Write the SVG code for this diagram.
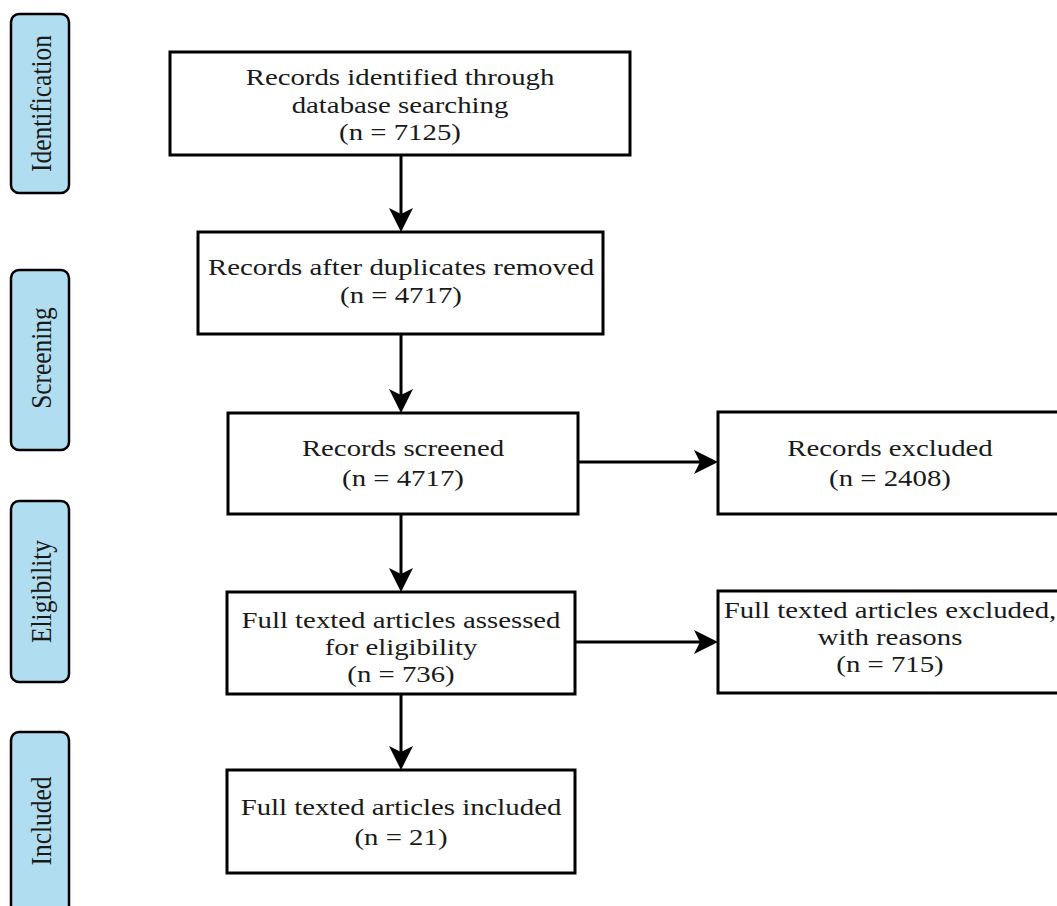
<svg xmlns="http://www.w3.org/2000/svg" width="1057" height="906" viewBox="0 0 1057 906">
<defs>
<style>
.box{fill:#ffffff;stroke:#000000;stroke-width:3}
.lab{fill:#b1ddf0;stroke:#000000;stroke-width:2.5}
.t{font-family:"Liberation Serif","Times New Roman",serif;font-size:24px;fill:#1a1a1a;text-anchor:middle}
.lt{font-family:"Liberation Serif","Times New Roman",serif;font-size:25.4px;fill:#1a1a1a;text-anchor:middle}
.c{fill:none;stroke:#000000;stroke-width:3}
</style>
<marker id="ah" viewBox="0 0 24 24" refX="14" refY="12" markerWidth="24" markerHeight="24" markerUnits="userSpaceOnUse" orient="auto">
<path d="M0,0 L24,12 L0,24 L6,12 Z" fill="#000000"/>
</marker>
</defs>
<rect width="1057" height="906" fill="#ffffff"/>

<g id="label-identification">
<rect class="lab" x="11" y="14" width="58" height="179" rx="8"/>
<text class="lt" transform="translate(51,103.5) rotate(-90) scale(1,1.2)">Identification</text>
</g>
<g id="label-screening">
<rect class="lab" x="11" y="270" width="58" height="180" rx="8"/>
<text class="lt" transform="translate(51,358) rotate(-90) scale(1,1.2)">Screening</text>
</g>
<g id="label-eligibility">
<rect class="lab" x="11" y="501" width="58" height="181" rx="8"/>
<text class="lt" transform="translate(51,591.5) rotate(-90) scale(1,1.2)">Eligibility</text>
</g>
<g id="label-included">
<rect class="lab" x="11" y="732" width="58" height="190" rx="8"/>
<text class="lt" transform="translate(51,821) rotate(-90) scale(1,1.2)">Included</text>
</g>

<g id="connectors">
<line class="c" x1="401" y1="155" x2="401" y2="222" marker-end="url(#ah)"/>
<line class="c" x1="401" y1="334" x2="401" y2="403" marker-end="url(#ah)"/>
<line class="c" x1="401" y1="514" x2="401" y2="582" marker-end="url(#ah)"/>
<line class="c" x1="401" y1="694" x2="401" y2="760" marker-end="url(#ah)"/>
<line class="c" x1="578" y1="462" x2="708" y2="462" marker-end="url(#ah)"/>
<line class="c" x1="575" y1="642" x2="708" y2="642" marker-end="url(#ah)"/>
</g>

<g id="node-identified">
<rect class="box" x="170" y="52" width="460" height="103"/>
<text class="t" transform="translate(400,85) scale(1.2,1)">Records identified through</text>
<text class="t" transform="translate(400,113) scale(1.2,1)">database searching</text>
<text class="t" transform="translate(400,140) scale(1.2,1)">(n = 7125)</text>
</g>
<g id="node-duplicates">
<rect class="box" x="198" y="232" width="405" height="102"/>
<text class="t" transform="translate(401,275) scale(1.2,1)">Records after duplicates removed</text>
<text class="t" transform="translate(401,303) scale(1.2,1)">(n = 4717)</text>
</g>
<g id="node-screened">
<rect class="box" x="228" y="413" width="350" height="101"/>
<text class="t" transform="translate(403,456) scale(1.2,1)">Records screened</text>
<text class="t" transform="translate(403,486) scale(1.2,1)">(n = 4717)</text>
</g>
<g id="node-excluded">
<rect class="box" x="718" y="412" width="344" height="102"/>
<text class="t" transform="translate(890,456) scale(1.2,1)">Records excluded</text>
<text class="t" transform="translate(890,486) scale(1.2,1)">(n = 2408)</text>
</g>
<g id="node-assessed">
<rect class="box" x="227" y="592" width="348" height="102"/>
<text class="t" transform="translate(401,628) scale(1.2,1)">Full texted articles assessed</text>
<text class="t" transform="translate(401,655) scale(1.2,1)">for eligibility</text>
<text class="t" transform="translate(401,682) scale(1.2,1)">(n = 736)</text>
</g>
<g id="node-excluded-reasons">
<rect class="box" x="718" y="591" width="344" height="102"/>
<text class="t" transform="translate(890,618) scale(1.2,1)">Full texted articles excluded,</text>
<text class="t" transform="translate(890,645) scale(1.2,1)">with reasons</text>
<text class="t" transform="translate(890,672) scale(1.2,1)">(n = 715)</text>
</g>
<g id="node-included">
<rect class="box" x="227" y="770" width="348" height="103"/>
<text class="t" transform="translate(401,815) scale(1.2,1)">Full texted articles included</text>
<text class="t" transform="translate(401,845) scale(1.2,1)">(n = 21)</text>
</g>
</svg>
